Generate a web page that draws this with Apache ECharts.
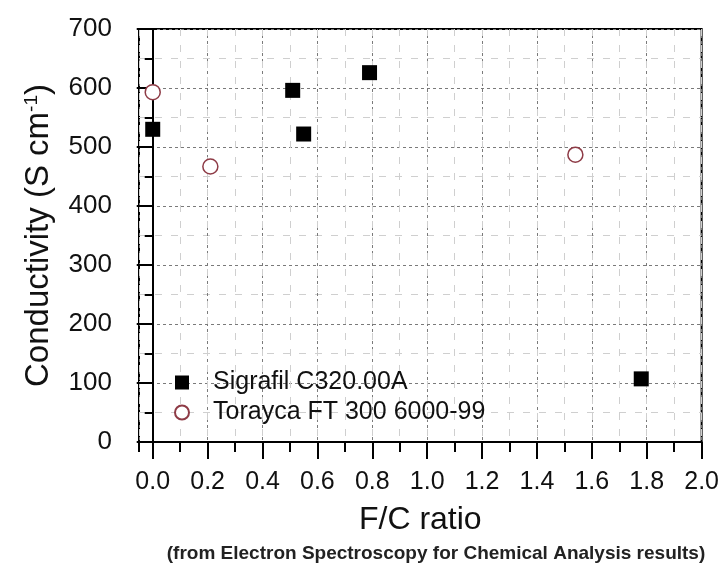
<!DOCTYPE html>
<html>
<head>
<meta charset="utf-8">
<script src="https://cdn.jsdelivr.net/npm/echarts@6/dist/echarts.min.js"></script>
<style>
  html, body { margin: 0; padding: 0; background: #fff; }
  #chart { width: 722px; height: 564px; }
</style>
</head>
<body>
<div id="chart"></div>
<script>
// F/C ratio vs conductivity
const sigrafilFC = [0.0, 0.51, 0.55, 0.79, 1.78];
const sigrafilCond = [530, 596, 522, 626, 107];
const toraycaFC = [0.0, 0.21, 1.54];
const toraycaCond = [593, 467, 487];

const seriesNames = ["Sigrafil C320.00A", "Torayca FT 300 6000-99"];
const xName = "F/C ratio";
const yName = "Conductivity (S cm{sup|-1})";
const note = "(from Electron Spectroscopy for Chemical Analysis results)";

const FONT = "Liberation Sans, Arial, sans-serif";

const chart = echarts.init(document.getElementById("chart"));

const pairs = (xs, ys) => xs.map((x, i) => [x, ys[i]]);

chart.setOption({
  animation: false,
  textStyle: { fontFamily: FONT, color: "#111" },
  title: {
    text: note,
    left: 431,
    top: 539,
    textAlign: "center",
    textStyle: { fontSize: 19, fontWeight: "bold", color: "#222", fontFamily: FONT }
  },
  grid: {
    left: 139, right: 20, top: 29, bottom: 122,
    show: true, borderColor: "#000", borderWidth: 2,
    backgroundColor: "transparent"
  },
  legend: {
    orient: "vertical",
    left: 169, top: 365,
    itemWidth: 14, itemHeight: 14, itemGap: 5,
    selectedMode: false,
    textStyle: { fontSize: 25, lineHeight: 25, color: "#111", fontFamily: FONT, padding: [0, 0, 0, 19] },
    data: seriesNames
  },
  xAxis: [
    {
      type: "value", min: -0.05, max: 2.0, splitNumber: 10,
      name: xName, nameLocation: "middle", nameGap: 62,
      nameTextStyle: { fontSize: 32, color: "#111", fontFamily: FONT },
      axisLine: { onZero: false, lineStyle: { color: "#000", width: 2 } },
      axisTick: { length: 17, lineStyle: { color: "#000", width: 2 } },
      axisLabel: {
        fontSize: 25, color: "#111", margin: 28, showMinLabel: false,
        formatter: v => (v < 0 ? "" : v.toFixed(1))
      },
      splitLine: { show: true, lineStyle: { color: "#7a7a7a", type: [3, 3], width: 1 } }
    },
    {
      // minor ticks and minor grid every 0.1
      type: "value", min: -0.05, max: 2.0, splitNumber: 20, position: "bottom",
      axisLine: { show: false },
      axisTick: { length: 10, lineStyle: { color: "#000", width: 2 } },
      axisLabel: { show: false },
      splitLine: { show: true, lineStyle: { color: "#cfcfcf", type: [7, 9], width: 1 } }
    }
  ],
  yAxis: {
    type: "value", min: 0, max: 700, interval: 100,
    name: yName, nameLocation: "middle", nameGap: 84,
    nameTextStyle: {
      fontSize: 33, color: "#111", fontFamily: FONT,
      rich: { sup: { fontSize: 19, verticalAlign: "top", lineHeight: 33, color: "#111" } }
    },
    axisLine: { show: true, lineStyle: { color: "#000", width: 2 } },
    axisTick: { show: true, length: 16, lineStyle: { color: "#000", width: 2 } },
    minorTick: { show: true, splitNumber: 2, length: 8, lineStyle: { color: "#000", width: 2 } },
    axisLabel: { fontSize: 26, color: "#111", margin: 27 },
    splitLine: { show: true, lineStyle: { color: "#7a7a7a", type: [3, 3], width: 1 } },
    minorSplitLine: { show: true, lineStyle: { color: "#cfcfcf", type: [7, 9], width: 1 } }
  },
  series: [
    {
      name: seriesNames[0], type: "scatter", xAxisIndex: 0,
      symbol: "rect", symbolSize: 15,
      itemStyle: { color: "#000", opacity: 1 },
      emphasis: { disabled: true },
      data: pairs(sigrafilFC, sigrafilCond)
    },
    {
      name: seriesNames[1], type: "scatter", xAxisIndex: 0,
      symbol: "circle", symbolSize: 15,
      itemStyle: { color: "#fff", borderColor: "#8e3b46", borderWidth: 1.5, opacity: 1 },
      emphasis: { disabled: true },
      data: pairs(toraycaFC, toraycaCond)
    }
  ]
});
</script>
</body>
</html>
